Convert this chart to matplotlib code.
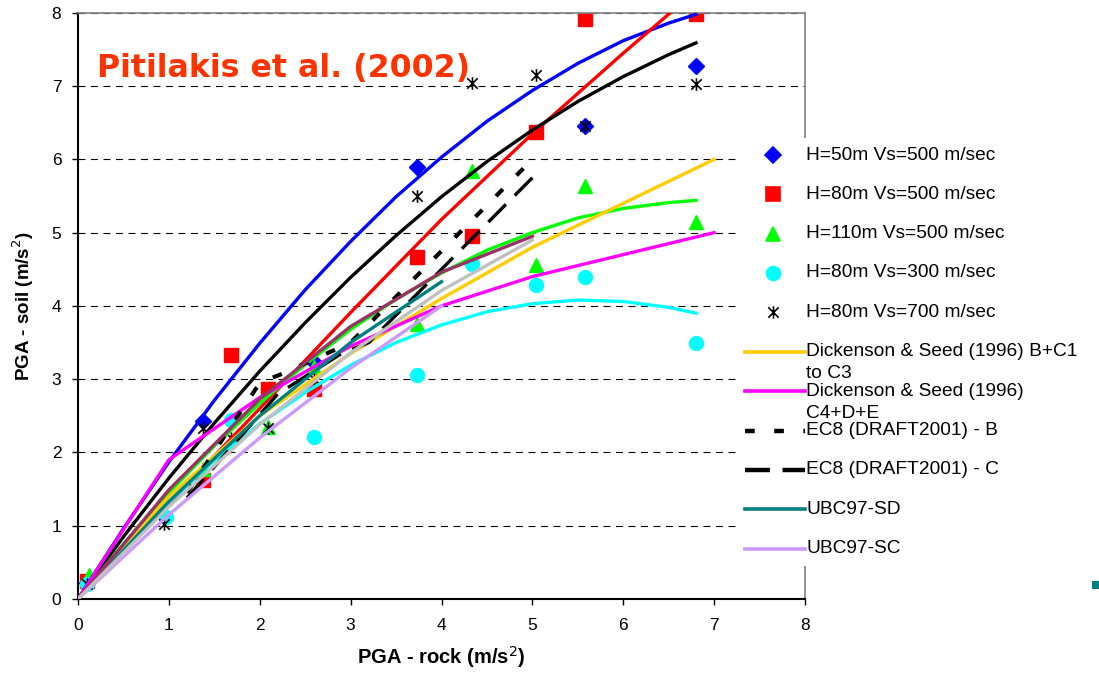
import matplotlib
matplotlib.use("Agg")
import matplotlib.pyplot as plt
from matplotlib.path import Path
from matplotlib.patches import Rectangle
from matplotlib.lines import Line2D

plt.rcParams['font.family'] = ['Liberation Sans', 'DejaVu Sans']
plt.rcParams['lines.scale_dashes'] = False

# measured points (PGA rock vs PGA soil, m/s2)
h50_x = [0.1, 1.37, 2.6, 3.73, 5.58, 6.8]
h50_y = [0.22, 2.43, 3.23, 5.9, 6.46, 7.27]
h80_x = [0.1, 1.37, 1.68, 2.09, 2.6, 3.73, 4.33, 5.04, 5.58, 6.8]
h80_y = [0.25, 1.63, 3.33, 2.86, 2.86, 4.67, 4.96, 6.38, 7.92, 7.98]
h110_x = [0.12, 1.37, 2.09, 2.6, 3.73, 4.33, 5.04, 5.58, 6.8]
h110_y = [0.33, 1.78, 2.35, 3.16, 3.75, 5.84, 4.56, 5.63, 5.15]
vs300_x = [0.1, 0.97, 1.68, 2.6, 3.73, 4.33, 5.04, 5.58, 6.8]
vs300_y = [0.2, 1.12, 2.44, 2.21, 3.06, 4.57, 4.28, 4.4, 3.5]
vs700_x = [0.1, 0.95, 1.37, 1.68, 2.09, 2.6, 3.73, 4.33, 5.04, 5.58, 6.8]
vs700_y = [0.2, 1.02, 2.33, 2.2, 2.33, 3.0, 5.5, 7.04, 7.15, 6.45, 7.03]

# fitted curves
fit_x = [0, 0.5, 1, 1.5, 2, 2.5, 3, 3.5, 4, 4.5, 5, 5.5, 6, 6.5, 6.8]
fit_h50 = [0, 0.96, 1.87, 2.71, 3.49, 4.22, 4.88, 5.49, 6.03, 6.52, 6.94, 7.31, 7.62, 7.86, 7.98]
fit_vs700 = [0, 0.85, 1.65, 2.40, 3.11, 3.77, 4.39, 4.96, 5.49, 5.97, 6.40, 6.79, 7.13, 7.43, 7.59]
fit_h110 = [0, 0.75, 1.45, 2.09, 2.67, 3.20, 3.68, 4.09, 4.45, 4.76, 5.00, 5.20, 5.33, 5.41, 5.44]
fit_vs300 = [0, 0.69, 1.32, 1.89, 2.39, 2.82, 3.19, 3.50, 3.74, 3.92, 4.03, 4.08, 4.06, 3.98, 3.90]
fit_h80_x = [0, 1, 2, 3, 4, 5, 6, 6.8]
fit_h80 = [0, 1.30, 2.60, 3.91, 5.18, 6.35, 7.45, 8.3]

ds_bc_x = [0, 1, 2, 3, 4, 5, 7]
ds_bc_y = [0, 1.4, 2.5, 3.35, 4.1, 4.8, 6.0]
ds_de_x = [0, 1, 2, 3, 4, 5, 7]
ds_de_y = [0, 1.9, 2.75, 3.45, 4.0, 4.4, 5.0]
ec8b_x = [1.2, 2.0, 2.3, 3.0, 5.0]
ec8b_y = [1.45, 2.95, 3.1, 3.5, 6.0]
ec8c_x = [1.2, 2.2, 2.9, 3.2, 5.0]
ec8c_y = [1.38, 2.8, 3.35, 3.5, 5.75]
ubc_sd_x = [0, 1, 2, 3, 4]
ubc_sd_y = [0, 1.33, 2.5, 3.5, 4.33]
ubc_sc_x = [0, 1, 2, 3, 4]
ubc_sc_y = [0, 1.15, 2.2, 3.15, 4.0]
brown_x = [0, 1, 2, 3, 4, 5]
brown_y = [0, 1.49, 2.73, 3.72, 4.46, 4.95]
gray_x = [0, 1, 2, 3, 4, 5]
gray_y = [0, 1.26, 2.38, 3.36, 4.21, 4.9]

star = Path([(-1, -1), (1, 1), (-1, 1), (1, -1), (0, -1.2), (0, 1.2)],
            [Path.MOVETO, Path.LINETO, Path.MOVETO, Path.LINETO, Path.MOVETO, Path.LINETO])

fig = plt.figure(figsize=(10.99, 6.76), dpi=100)
ax = fig.add_axes([0.071, 0.114, 0.6615, 0.867])

# points
ax.plot(h50_x, h50_y, 'D', color='#0000FF', ms=8, zorder=2)
ax.plot(h80_x, h80_y, 's', color='#FF0000', ms=10, zorder=2)
ax.plot(h110_x, h110_y, '^', color='#00FF00', ms=10, zorder=2)
ax.plot(vs300_x, vs300_y, 'o', color='#00FFFF', ms=10, zorder=2)
ax.plot(vs700_x, vs700_y, ls='none', marker=star, color='black', ms=9, mew=1.2, zorder=2)

lw = 2.4
ax.plot(fit_x, fit_h50, color='#0000FF', lw=lw, zorder=3)
ax.plot(fit_h80_x, fit_h80, color='#FF0000', lw=lw, zorder=3)
ax.plot(fit_x, fit_vs700, color='black', lw=lw, zorder=3)
ax.plot(fit_x, fit_h110, color='#00FF00', lw=lw, zorder=3)
ax.plot(fit_x, fit_vs300, color='#00FFFF', lw=lw, zorder=3)
ax.plot(ds_bc_x, ds_bc_y, color='#FFCC00', lw=lw, zorder=3)
ax.plot(ds_de_x, ds_de_y, color='#FF00FF', lw=lw, zorder=3)
ax.plot(ec8b_x, ec8b_y, color='black', lw=3, dashes=(7, 14), zorder=3)
ax.plot(ec8c_x, ec8c_y, color='black', lw=2.4, dashes=(18, 9), zorder=3)
ax.plot(ubc_sd_x, ubc_sd_y, color='#008080', lw=lw, zorder=3)
ax.plot(brown_x, brown_y, color='#993366', lw=lw, zorder=3)
ax.plot(ubc_sc_x, ubc_sc_y, color='#CC99FF', lw=lw, zorder=3)
ax.plot(gray_x, gray_y, color='#C0C0C0', lw=lw, zorder=3)

ax.set_xlim(0, 8)
ax.set_ylim(0, 8)
ax.set_xticks(range(9))
ax.set_yticks(range(9))
ax.yaxis.grid(True, color='black', lw=0.8, dashes=(5, 4))
ax.set_axisbelow(True)
for s in ['left', 'bottom']:
    ax.spines[s].set_linewidth(1.5)
for s in ['top', 'right']:
    ax.spines[s].set_color('#808080')
    ax.spines[s].set_linewidth(1.2)
ax.tick_params(direction='out', length=4, width=1, labelsize=12.5)
ax.tick_params(axis='x', pad=10)
ax.tick_params(axis='y', pad=8)
ax.set_xlabel('PGA - rock (m/s$^2$)', fontsize=14.5, fontweight='bold', labelpad=8)
ax.set_ylabel('PGA - soil (m/s$^2$)', fontsize=13.5, fontweight='bold', labelpad=11)

ax.text(0.026, 0.905, 'Pitilakis et al. (2002)', transform=ax.transAxes, color='#FF3300',
        fontsize=22.8, fontweight='bold', va='center', family=['DejaVu Sans'])

# legend drawn in pixel coordinates
lax = fig.add_axes([0, 0, 1, 1], zorder=5)
lax.set_xlim(0, 1099)
lax.set_ylim(676, 0)
lax.axis('off')
lax.patch.set_alpha(0)
lax.add_patch(Rectangle((737, 138), 362, 428, facecolor='white', edgecolor='none'))

fs = 13.8
marker_items = [
    ('D', '#0000FF', 8, 'H=50m Vs=500 m/sec'),
    ('s', '#FF0000', 10, 'H=80m Vs=500 m/sec'),
    ('^', '#00FF00', 10, 'H=110m Vs=500 m/sec'),
    ('o', '#00FFFF', 10, 'H=80m Vs=300 m/sec'),
    (star, 'black', 9, 'H=80m Vs=700 m/sec'),
]
for i, (m, c, ms, lab) in enumerate(marker_items):
    yy = 155 + i * 39.3
    lax.add_line(Line2D([773], [yy], marker=m, color=c, ms=ms, mew=1.2, ls='none'))
    lax.text(806, yy, lab, fontsize=fs, va='center')

line_items = [
    ('#FFCC00', 2.6, None, 'Dickenson & Seed (1996) B+C1', 'to C3'),
    ('#FF00FF', 2.6, None, 'Dickenson & Seed (1996)', 'C4+D+E'),
    ('black', 3.2, (7, 14), 'EC8 (DRAFT2001) - B', None),
    ('black', 3.2, (18, 9), 'EC8 (DRAFT2001) - C', None),
    ('#008080', 2.6, None, 'UBC97-SD', None),
    ('#CC99FF', 2.6, None, 'UBC97-SC', None),
]
for i, (c, w, d, lab, lab2) in enumerate(line_items):
    yy = 352 + i * 39.3
    ln = Line2D([745, 805], [yy, yy], color=c, lw=w)
    if d:
        ln.set_dashes(d)
    lax.add_line(ln)
    lax.text(806, yy, lab, fontsize=fs, va='center')
    if lab2:
        lax.text(806, yy + 22, lab2, fontsize=fs, va='center')

lax.add_patch(Rectangle((1092, 581), 7, 8, facecolor='#008080', edgecolor='none'))

fig.savefig('out.png', dpi=100)
